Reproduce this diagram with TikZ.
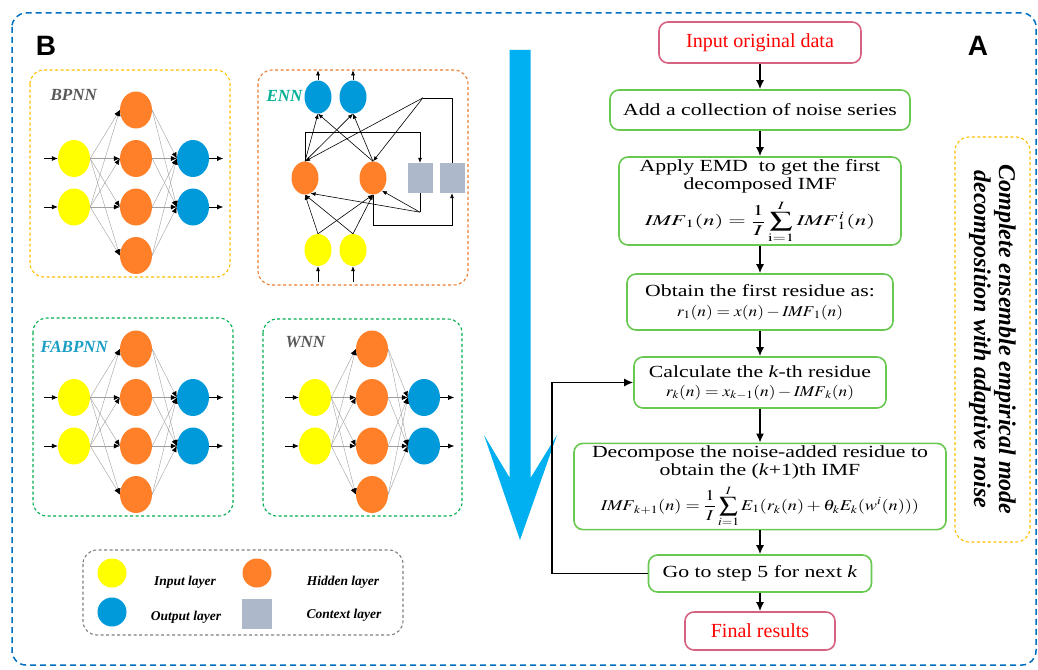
\documentclass[tikz,border=0pt]{standalone}
\usepackage{mathptmx}
\usepackage{fontspec}
\usepackage{graphicx}
\setmainfont{Liberation Serif}
\newfontfamily\flowfont[FakeStretch=1.28]{Liberation Serif}
\newfontfamily\tagfont{Liberation Sans}
\usetikzlibrary{shapes.geometric,arrows.meta}

\definecolor{inyellow}{RGB}{255,255,0}
\definecolor{hidorange}{RGB}{255,128,40}
\definecolor{outblue}{RGB}{0,153,218}
\definecolor{ctxgray}{RGB}{173,185,202}
\definecolor{bigcyan}{RGB}{0,176,240}
\definecolor{frameblue}{RGB}{0,112,192}
\definecolor{stepgreen}{RGB}{104,200,80}
\definecolor{endpink}{RGB}{214,98,130}
\definecolor{gold}{RGB}{255,192,0}
\definecolor{ennorange}{RGB}{237,125,49}
\definecolor{netgreen}{RGB}{0,176,80}
\definecolor{leggray}{RGB}{128,128,128}
\definecolor{labgray}{RGB}{89,89,89}
\definecolor{ennteal}{RGB}{0,176,150}
\definecolor{fabteal}{RGB}{26,158,196}

\newcommand\fml[2][1.2]{\scalebox{#1}[1]{\fontsize{15}{15}\selectfont$\displaystyle #2$}}

\begin{document}
\begin{tikzpicture}[%
			x=1pt, y=-1pt,
			stepbox/.style={draw=stepgreen, line width=1.6pt, rounded corners=9pt, fill=white, align=center, inner sep=2pt, font=\flowfont\fontsize{17}{18}\selectfont},
			endbox/.style={draw=endpink, line width=1.6pt, rounded corners=9pt, fill=white, text=red, font=\fontsize{20}{22}\selectfont},
			flow/.style={line width=1.5pt, -{Latex[length=9pt,width=8pt]}},
			inlay/.style={ellipse, fill=inyellow, inner sep=0pt, minimum width=32pt, minimum height=37pt},
			hidlay/.style={ellipse, fill=hidorange, inner sep=0pt, minimum width=32pt, minimum height=37pt},
			outlay/.style={ellipse, fill=outblue, inner sep=0pt, minimum width=32pt, minimum height=37pt},
			ctxlay/.style={rectangle, fill=ctxgray, inner sep=0pt, minimum width=25pt, minimum height=30pt},
			link/.style={gray!75, line width=0.4pt, -{Latex[black,length=6pt,width=5pt]}},
			feed/.style={line width=0.6pt, -{Latex[length=6pt,width=5pt]}},
			elink/.style={line width=0.6pt, -{Latex[length=5pt,width=4pt]}},
			netframe/.style={line width=1.1pt, dash pattern=on 3pt off 2.5pt, rounded corners=14pt},
			netlabel/.style={anchor=west, font=\bfseries\itshape\fontsize{17}{17}\selectfont},
			legtext/.style={font=\bfseries\itshape\fontsize{13.5}{14}\selectfont}
			]
			\useasboundingbox (0,0) rectangle (1038,669);
			\fill[white] (0,0) rectangle (1038,669);
			\draw[frameblue, line width=1.5pt, dash pattern=on 6pt off 4pt, rounded corners=14pt] (12,13) rectangle (1036,665);
			\node[font=\tagfont\bfseries\fontsize{28}{28}\selectfont] (B) at (46,46) {B};
			\node[font=\tagfont\bfseries\fontsize{28}{28}\selectfont] (A) at (978,46) {A};

			\draw[netframe, draw=gold] (30,70) rectangle (230,277);
			\draw[netframe, draw=ennorange] (258,70) rectangle (468,285);
			\draw[netframe, draw=netgreen] (33,318) rectangle (233,516);
			\draw[netframe, draw=netgreen] (263,319) rectangle (462,516);
			\draw[netframe, draw=leggray] (83,550) rectangle (403,635);
			\node[netlabel, text=labgray] (bl) at (47,95) {BPNN};
			\node[netlabel, text=ennteal] (el) at (263,96) {ENN};
			\node[netlabel, text=fabteal] (fl) at (37,347) {FABPNN};
			\node[netlabel, text=labgray] (wl) at (282,342) {WNN};

			\foreach \nn/\xi/\xh/\xo/\yy in {b/74/136/193/110, f/74/136/193/349, w/315/372/424/349}{
				\foreach \k in {1,...,4}
					\node[hidlay] (\nn h\k) at (\xh,\yy+48.5*\k-48.5) {};
				\foreach \k in {1,2}{
					\node[inlay] (\nn i\k) at (\xi,\yy+48.5*\k) {};
					\node[outlay] (\nn o\k) at (\xo,\yy+48.5*\k) {};
					\draw[feed] (\nn i\k.west) ++(-14pt,0pt) -- (\nn i\k.west);
					\draw[feed] (\nn o\k.east) -- ++(14pt,0pt);
				}
				\foreach \a in {1,2}
					\foreach \k in {1,...,4}{
						\draw[link] (\nn i\a.east) -- (\nn h\k.west);
						\draw[link] (\nn h\k.east) -- (\nn o\a.west);
					}
			}

			\node[outlay, minimum width=27pt, minimum height=33pt] (eo1) at (318,97) {};
			\node[outlay, minimum width=27pt, minimum height=33pt] (eo2) at (353,97) {};
			\node[hidlay, minimum width=27pt, minimum height=33pt] (eh1) at (305,178) {};
			\node[hidlay, minimum width=27pt, minimum height=33pt] (eh2) at (373,178) {};
			\node[ctxlay] (ec1) at (420,178) {};
			\node[ctxlay] (ec2) at (452,178) {};
			\node[inlay, minimum width=27pt, minimum height=32pt] (ei1) at (318,250) {};
			\node[inlay, minimum width=27pt, minimum height=32pt] (ei2) at (353,250) {};
			\foreach \a in {1,2}{
				\draw[elink] (eo\a.north) -- ++(0pt,10pt);
				\draw[elink] (ei\a.south) ++(0pt,-16pt) -- (ei\a.south);
				\foreach \k in {1,2}{
					\draw[elink] (ei\a.north) -- (eh\k.south);
					\draw[elink] (eh\a.north) -- (eo\k.south);
				}
			}
			\draw[elink] (eh1.north) -- ++(0pt,29.5pt) -| (ec1.north);
			\draw[elink] (eh2.south) -- ++(0pt,-30.5pt) -| (ec2.south);
			\draw[line width=0.6pt] (ec1.south) -- ++(0pt,-19pt) coordinate (cj);
			\draw[line width=0.6pt] (ec2.north) -- ++(0pt,65pt) -- ++(-29pt,0pt) coordinate (ck);
			\draw[elink] (cj) -- (eh1.-70);
			\draw[elink] (cj) -- (eh2.-55);
			\draw[elink] (ck) -- (eh1.north);
			\draw[elink] (ck) -- (eh2.north);

			\node[inlay, minimum width=29pt, minimum height=29pt] (li) at (112,573) {};
			\node[legtext] (lit) at (185,582) {Input layer};
			\node[hidlay, minimum width=29pt, minimum height=29pt] (lh) at (257,573) {};
			\node[legtext] (lht) at (343,582) {Hidden layer};
			\node[outlay, minimum width=29pt, minimum height=29pt] (lo) at (112,612) {};
			\node[legtext] (lot) at (186,617) {Output layer};
			\node[ctxlay, minimum width=30pt, minimum height=30pt] (lc) at (257,614) {};
			\node[legtext] (lct) at (344,615) {Context layer};

			\fill[bigcyan] (509.5,50) -- (530.5,50) -- (530.5,478) -- (557,435) -- (520,540) -- (484,435) -- (509.5,477.5) -- cycle;

			\node[endbox, minimum width=202pt, minimum height=41pt] (1) at (760,42.5) {Input original data};
			\node[stepbox, minimum width=300pt, minimum height=40pt] (2) at (760,110) {Add a collection of noise series};
			\node[stepbox, minimum width=282pt, minimum height=88pt] (3) at (760,201) {Apply EMD\ \ to get the first\\decomposed IMF\\[7pt]
				\fml[1.5]{\mathit{IMF}_1(n)=\frac{1}{I}\sum_{\mathrm{i}=1}^{I}\mathit{IMF}_1^{\,i}(n)}};
			\node[stepbox, minimum width=266pt, minimum height=56pt] (4) at (760,302) {Obtain the first residue as:\\[2pt]
				\fml[1.16]{r_1(n)=x(n)-\mathit{IMF}_1(n)}};
			\node[stepbox, minimum width=252pt, minimum height=51pt] (5) at (760,382.5) {Calculate the \textit{k}-th residue\\[1pt]
				\fml[1.16]{r_k(n)=x_{k-1}(n)-\mathit{IMF}_k(n)}};
			\node[stepbox, minimum width=372pt, minimum height=83pt] (6) at (760,486.5) {Decompose the noise-added residue to\\obtain the (\textit{k}+1)th IMF\\[6pt]
				\fml[1.22]{\mathit{IMF}_{k+1}(n)=\frac{1}{I}\sum_{i=1}^{I}E_1(r_k(n)+\theta_kE_k(w^i(n)))}};
			\node[stepbox, minimum width=223pt, minimum height=37pt] (7) at (760,573.5) {Go to step 5 for next \textit{k}};
			\node[endbox, minimum width=150pt, minimum height=38pt] (8) at (760,631) {Final results};
			\draw[flow] (1) -- (2);
			\draw[flow] (2) -- (3);
			\draw[flow] (3) -- (4);
			\draw[flow] (4) -- (5);
			\draw[flow] (5) -- (6);
			\draw[flow] (6) -- (7);
			\draw[flow] (7) -- (8);
			\coordinate (back) at (552,573.5);
			\draw[flow] (7.west) -- (back) |- (5.west);

			\node[draw=gold, netframe, rotate=-90, minimum width=405pt, minimum height=75pt, align=center, font=\bfseries\itshape\fontsize{24}{25}\selectfont] (ceemdan) at (992.5,339.5) {Complete ensemble empirical mode\\decomposition with adaptive noise};
		\end{tikzpicture}
\end{document}
